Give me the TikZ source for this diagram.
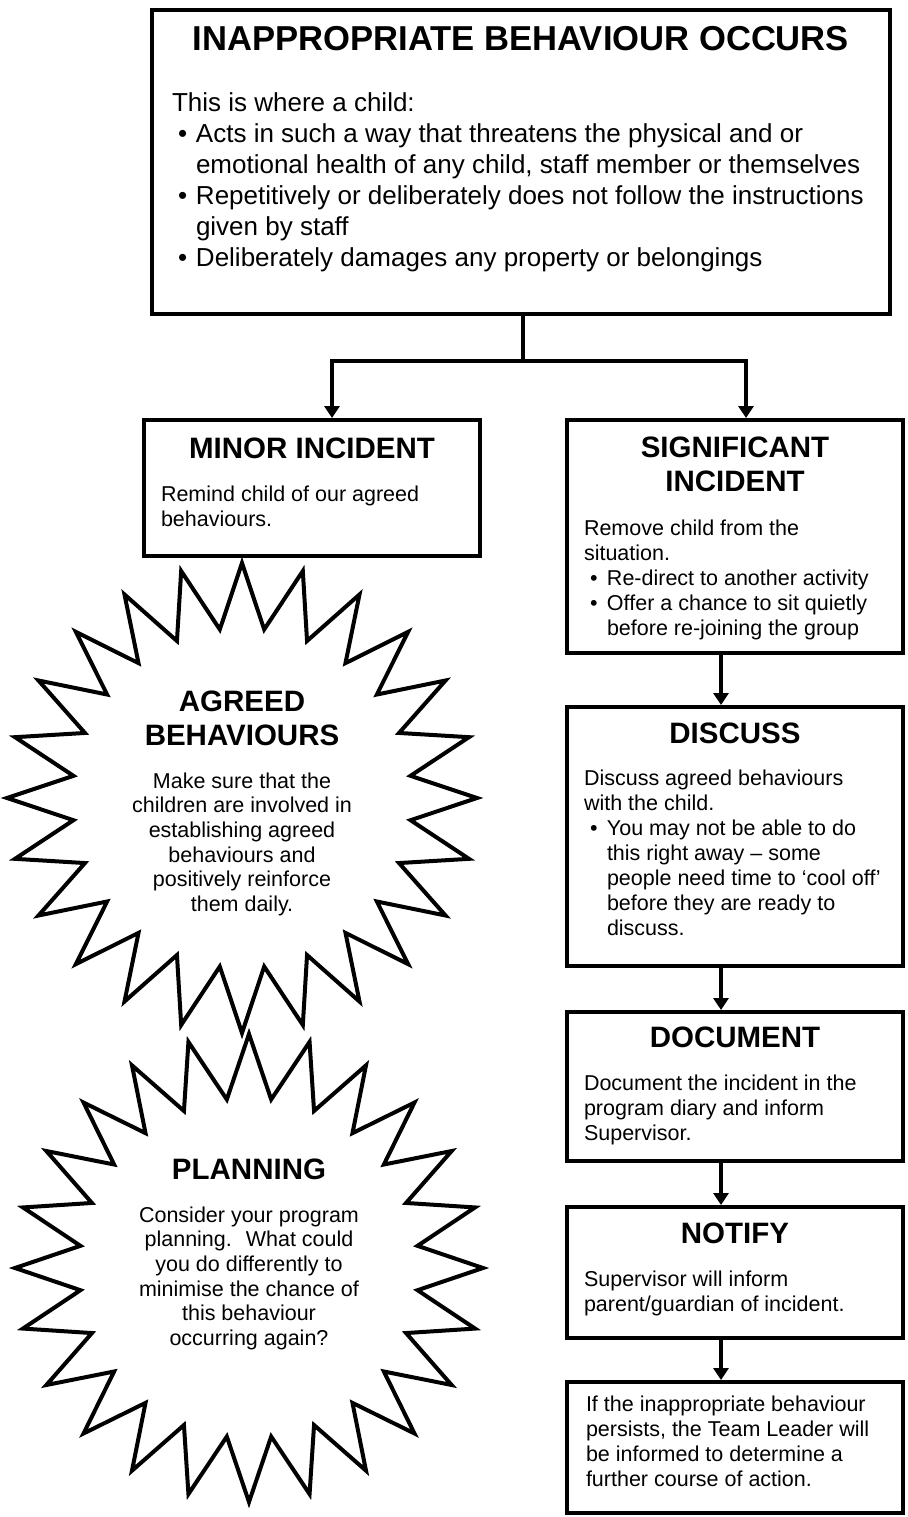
\documentclass[tikz,border=0pt]{standalone}
\usepackage{fontspec}
\setmainfont{Liberation Sans}
\usetikzlibrary{arrows.meta,fit}
\newcommand{\bitem}[2]{\hspace*{#1}\makebox[#2][l]{\textbullet}}
\newcommand{\lblock}[1]{\begin{tabular}[t]{@{}l@{}}#1\end{tabular}}
\newcommand{\cblock}[1]{\begin{tabular}[t]{@{}c@{}}#1\end{tabular}}
\tikzset{
  box/.style={draw=black, line width=4pt, inner sep=0pt, outer sep=2pt},
  conn/.style={draw=black, line width=3.5pt},
  arr/.style={conn, -{Triangle[width=15pt,length=12pt]}},
  txt/.style={inner sep=0pt, outer sep=0pt},
  titlef/.style={txt, font=\bfseries\fontsize{34.6}{40}\selectfont},
  topbody/.style={txt, font=\fontsize{26}{31}\selectfont},
  hd/.style={txt, font=\bfseries\fontsize{29.5}{34}\selectfont},
  body/.style={txt, font=\fontsize{21.5}{25}\selectfont},
  sbody/.style={txt, font=\fontsize{21.5}{24.7}\selectfont},
  starl/.style={draw=black, line width=4pt, line join=miter},
}
\begin{document}
\begin{tikzpicture}[x=1pt,y=-1pt]
\useasboundingbox (0,0) rectangle (907,1517);
% boxes
\node[box, fit={(152,10) (890,314)}] (top) {};
\node[box, fit={(144,420) (480,556)}] (minor) {};
\node[box, fit={(567,420) (903,653)}] (sig) {};
\node[box, fit={(567,707) (903,966)}] (disc) {};
\node[box, fit={(567,1012) (903,1161)}] (doc) {};
\node[box, fit={(567,1207) (903,1338)}] (notify) {};
\node[box, fit={(567,1382) (903,1513)}] (final) {};
% stars
\draw[starl] plot[samples at={0,...,47}, variable=\i]
  ({242+ifthenelse(mod(\i,2)==0,235,170)*cos(90+\i*7.5)},
   {798-ifthenelse(mod(\i,2)==0,235,170)*sin(90+\i*7.5)}) -- cycle;
\draw[starl] plot[samples at={0,...,47}, variable=\i]
  ({249+ifthenelse(mod(\i,2)==0,234,170)*cos(90+\i*7.5)},
   {1268-ifthenelse(mod(\i,2)==0,234,170)*sin(90+\i*7.5)}) -- cycle;
% top box text
\node[titlef, anchor=base] (title) at (521,51) {INAPPROPRIATE BEHAVIOUR OCCURS};
\node[topbody, anchor=base west] (topt) at (172,112) {\lblock{%
This is where a child:\\
\bitem{6pt}{18pt}Acts in such a way that threatens the physical and or\\
\hspace*{24pt}emotional health of any child, staff member or themselves\\
\bitem{6pt}{18pt}Repetitively or deliberately does not follow the instructions\\
\hspace*{24pt}given by staff\\
\bitem{6pt}{18pt}Deliberately damages any property or belongings}};
% minor
\node[hd, anchor=base] (minorh) at (312,458) {MINOR INCIDENT};
\node[body, anchor=base west] (minort) at (161,501) {\lblock{%
Remind child of our agreed\\ behaviours.}};
% significant
\node[hd, anchor=base] (sigh) at (735,457.5) {\cblock{SIGNIFICANT\\ INCIDENT}};
\node[body, anchor=base west] (sigt) at (584,535) {\lblock{%
Remove child from the\\
situation.\\
\bitem{6pt}{17pt}Re-direct to another activity\\
\bitem{6pt}{17pt}Offer a chance to sit quietly\\
\hspace*{23pt}before re-joining the group}};
% discuss
\node[hd, anchor=base] (disch) at (735,743.5) {DISCUSS};
\node[body, anchor=base west] (disct) at (584,785) {\lblock{%
Discuss agreed behaviours\\
with the child.\\
\bitem{6pt}{17pt}You may not be able to do\\
\hspace*{23pt}this right away – some\\
\hspace*{23pt}people need time to ‘cool off’\\
\hspace*{23pt}before they are ready to\\
\hspace*{23pt}discuss.}};
% document
\node[hd, anchor=base] (doch) at (735,1047.5) {DOCUMENT};
\node[body, anchor=base west] (doct) at (584,1090) {\lblock{%
Document the incident in the\\
program diary and inform\\
Supervisor.}};
% notify
\node[hd, anchor=base] (notifyh) at (735,1243.5) {NOTIFY};
\node[body, anchor=base west] (notifyt) at (584,1286) {\lblock{%
Supervisor will inform\\
parent/guardian of incident.}};
% final
\node[body, anchor=base west] (finalt) at (586,1411) {\lblock{%
If the inappropriate behaviour\\
persists, the Team Leader will\\
be informed to determine a\\
further course of action.}};
% star texts
\node[hd, anchor=base] (agh) at (242,711) {\cblock{AGREED\\ BEHAVIOURS}};
\node[sbody, anchor=base] (agt) at (242,788) {\cblock{%
Make sure that the\\
children are involved in\\
establishing agreed\\
behaviours and\\
positively reinforce\\
them daily.}};
\node[hd, anchor=base] (plh) at (249,1179) {PLANNING};
\node[sbody, anchor=base] (plt) at (249,1222) {\cblock{%
Consider your program\\
planning.~ What could\\
you do differently to\\
minimise the chance of\\
this behaviour\\
occurring again?}};
% connectors
\coordinate (j) at (523,361);
\coordinate (lx) at (332,0);
\coordinate (rx) at (746,0);
\coordinate (cx) at (721,0);
\draw[conn] (top.south -| j) -- (j);
\draw[arr] (j) -| (minor.north -| lx);
\draw[arr] (j) -| (sig.north -| rx);
\draw[arr] (sig.south -| cx) -- (disc.north -| cx);
\draw[arr] (disc.south -| cx) -- (doc.north -| cx);
\draw[arr] (doc.south -| cx) -- (notify.north -| cx);
\draw[arr] (notify.south -| cx) -- (final.north -| cx);
\end{tikzpicture}
\end{document}
